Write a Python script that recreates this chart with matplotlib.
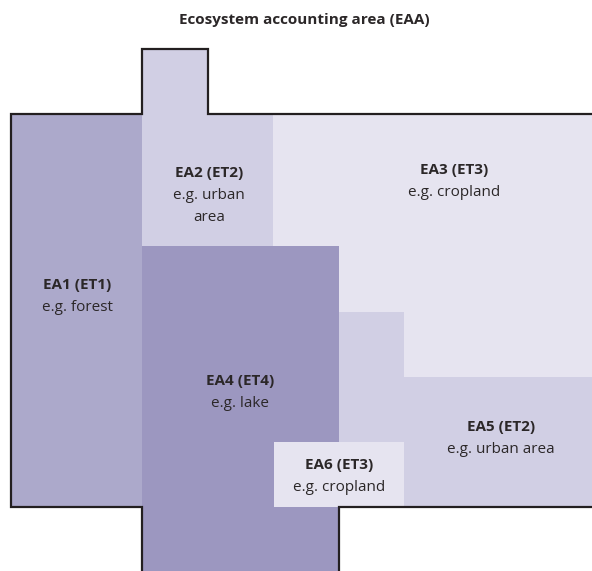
import matplotlib
matplotlib.use("Agg")
import matplotlib.pyplot as plt
from matplotlib.patches import Polygon

# ---- data ----
title = "Ecosystem accounting area (EAA)"
area_ids = ["EA3", "EA5", "EA1", "EA2", "EA4", "EA6"]
eco_types = ["ET3", "ET2", "ET1", "ET2", "ET4", "ET3"]
examples = ["e.g. cropland", "e.g. urban area", "e.g. forest",
            "e.g. urban\narea", "e.g. lake", "e.g. cropland"]

# region outlines (pixel space of the diagram)
shapes = [
    [(273, 114), (600, 114), (600, 377), (273, 377)],
    [(339, 312), (404, 312), (404, 377), (600, 377), (600, 507), (339, 507)],
    [(11, 114), (143, 114), (143, 507), (11, 507)],
    [(142, 49), (208, 49), (208, 114), (273, 114), (273, 246), (142, 246)],
    [(142, 246), (339, 246), (339, 580), (142, 580)],
    [(274, 442), (404, 442), (404, 507), (274, 507)],
]
label_pos = [(454, 174), (501, 431), (77, 289), (209, 177), (240, 385), (339, 469)]

type_colors = {"ET1": "#aca9cb", "ET2": "#d1cfe4", "ET3": "#e6e4f0", "ET4": "#9c97c0"}

boundary_a = [(600, 114), (208, 114), (208, 49), (142, 49), (142, 114),
              (11, 114), (11, 507), (142, 507), (142, 580)]
boundary_b = [(339, 580), (339, 507), (600, 507)]

W, H = 592, 571
fig = plt.figure(figsize=(W / 100, H / 100), dpi=100)
ax = fig.add_axes([0, 0, 1, 1])
ax.set_xlim(0, W)
ax.set_ylim(H, 0)
ax.axis("off")

font = "Open Sans"
fs = 11
tc = "#2b2728"
line_gap = 22

for aid, et, ex, shp, (lx, ly) in zip(area_ids, eco_types, examples, shapes, label_pos):
    ax.add_patch(Polygon(shp, closed=True, facecolor=type_colors[et], edgecolor="none"))
    ax.text(lx, ly, f"{aid} ({et})", ha="center", va="baseline", fontsize=fs,
            fontweight="bold", family=font, color=tc)
    for i, line in enumerate(ex.split("\n")):
        ax.text(lx, ly + line_gap * (i + 1), line, ha="center", va="baseline",
                fontsize=fs, family=font, color=tc)

for b in (boundary_a, boundary_b):
    xs, ys = zip(*b)
    ax.plot(xs, ys, color="#231f20", lw=1.6, solid_joinstyle="miter")

ax.text(304, 24, title, ha="center", va="baseline", fontsize=fs,
        fontweight="bold", family=font, color=tc)

fig.savefig("out.png", dpi=100)
